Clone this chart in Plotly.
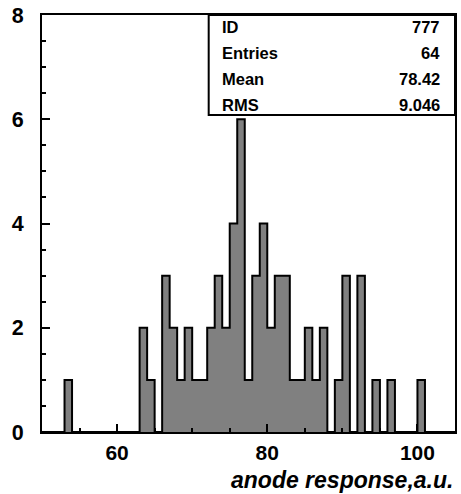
import plotly.graph_objects as go

# ---- data ----
bin_low_edges = [53, 63, 64, 66, 67, 68, 69, 70, 71, 72, 73, 74, 75, 76, 77, 78, 79,
                 80, 81, 82, 83, 84, 85, 86, 87, 89, 90, 92, 94, 96, 100]
counts = [1, 2, 1, 3, 2, 1, 2, 1, 1, 2, 3, 2, 4, 6, 1, 3, 4,
          2, 3, 3, 1, 1, 2, 1, 2, 1, 3, 3, 1, 1, 1]
bin_width = 1
x_range = [50, 105]
y_range = [0, 8]
stat_labels = ["ID", "Entries", "Mean", "RMS"]
stat_values = ["777", "64", "78.42", "9.046"]
x_title = "anode response,a.u."

FONT = "Liberation Sans, Arial, Helvetica, sans-serif"

# full step outline over the axis range
lookup = dict(zip(bin_low_edges, counts))
edges = list(range(x_range[0], x_range[1] + 1, bin_width))
step_x = edges
step_y = [lookup.get(e, 0) for e in edges[:-1]] + [0]

fig = go.Figure()
fig.add_trace(go.Bar(
    x=[e + bin_width / 2 for e in bin_low_edges], y=counts, width=bin_width,
    marker=dict(color="#808080", line=dict(width=0)), showlegend=False,
    hoverinfo="skip"))
fig.add_trace(go.Scatter(
    x=step_x, y=step_y, mode="lines", line=dict(color="black", width=2, shape="hv"),
    showlegend=False, hoverinfo="skip"))

axis_common = dict(
    showline=True, mirror=True, linewidth=2, linecolor="black",
    ticks="inside", ticklen=8, tickwidth=1.5, tickcolor="black",
    showgrid=False, zeroline=False,
)
fig.update_xaxes(range=x_range, tick0=0, dtick=20,
                 minor=dict(dtick=5, ticks="inside", ticklen=4, tickwidth=1.5, tickcolor="black"),
                 ticklabelstandoff=1,
                 tickfont=dict(family=FONT, size=21, color="black", weight="bold"),
                 **axis_common)
fig.update_yaxes(range=y_range, tick0=0, dtick=2,
                 minor=dict(dtick=0.5, ticks="inside", ticklen=4, tickwidth=1.5, tickcolor="black"),
                 ticklabelstandoff=12,
                 tickfont=dict(family=FONT, size=21.5, color="black", weight="bold"),
                 **axis_common)

L, R, T, B = 42, 4, 15, 62
W, H = 461, 494
pw, ph = W - L - R, H - T - B

def px_x(p):
    return (p - L) / pw

def px_y(p):
    return (H - B - p) / ph

# stats box
fig.add_shape(type="rect", xref="paper", yref="paper",
              x0=px_x(209.5), x1=1, y0=px_y(115), y1=1,
              line=dict(color="black", width=2), fillcolor="white", layer="above")
row_centers = [27, 53, 79, 105]
annos = []
for lab, val, yc in zip(stat_labels, stat_values, row_centers):
    annos.append(dict(xref="paper", yref="paper", x=px_x(221), y=px_y(yc),
                      xanchor="left", yanchor="middle", text=lab, showarrow=False,
                      font=dict(family=FONT, size=16.5, color="black", weight="bold")))
    annos.append(dict(xref="paper", yref="paper", x=px_x(444), y=px_y(yc),
                      xanchor="right", yanchor="middle", text=val, showarrow=False,
                      font=dict(family=FONT, size=16.5, color="black", weight="bold")))
annos.append(dict(xref="paper", yref="paper", x=px_x(457), y=px_y(479.5),
                  xanchor="right", yanchor="middle", text=x_title, showarrow=False,
                  font=dict(family=FONT, size=23, color="black", weight="bold", style="italic")))

fig.update_layout(
    width=W, height=H, margin=dict(l=L, r=R, t=T, b=B, pad=0),
    paper_bgcolor="white", plot_bgcolor="white", bargap=0,
    annotations=annos, showlegend=False,
)
fig.write_html("out.html")
